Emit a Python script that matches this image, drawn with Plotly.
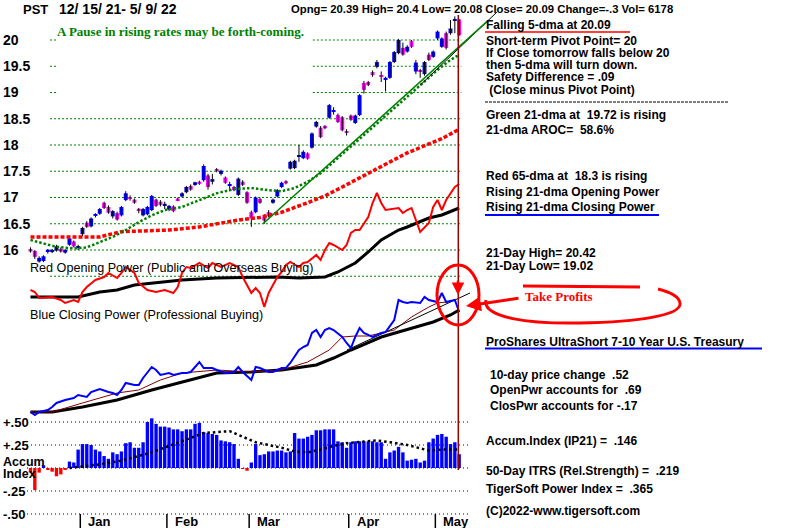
import plotly.graph_objects as go

# ---------------- data ----------------
days = list(range(100))
opens = [16.02,15.98,15.78,15.79,15.98,15.96,15.99,16.02,15.95,16.10,
         16.16,16.05,16.30,16.52,16.45,16.66,16.69,16.90,16.82,16.64,
         16.70,16.66,16.95,17.00,16.96,16.77,16.66,16.68,16.76,16.96,
         16.92,16.85,16.77,16.83,16.98,17.02,17.10,17.22,17.24,17.30,
         17.33,17.42,17.30,17.54,17.45,17.38,17.22,17.20,17.05,17.30,
         17.10,16.72,16.72,16.97,16.64,16.72,16.90,17.02,17.20,17.31,
         17.55,17.56,17.78,17.75,17.84,17.95,18.35,18.33,18.36,18.52,
         18.63,18.57,18.53,18.26,18.56,18.42,18.57,19.18,19.20,19.39,
         19.49,19.32,19.25,19.28,19.58,19.75,19.85,19.78,19.98,19.40,
         19.42,19.35,19.72,19.68,20.03,19.87,20.13,20.13,20.37,20.39]
highs = [16.05,16.00,15.88,15.90,16.02,16.02,16.10,16.05,16.02,16.25,
         16.18,16.10,16.44,16.55,16.62,16.70,16.80,16.92,16.85,16.76,
         16.73,16.84,17.12,17.04,16.98,16.80,16.80,16.84,17.05,16.98,
         16.95,16.92,16.86,16.85,17.00,17.10,17.22,17.25,17.30,17.32,
         17.63,17.45,17.45,17.56,17.53,17.40,17.30,17.22,17.38,17.33,
         17.12,16.75,17.02,17.00,16.68,16.76,16.98,17.16,17.30,17.33,
         17.70,17.72,18.00,17.90,17.86,18.24,18.46,18.36,18.38,18.78,
         18.72,18.60,18.55,18.30,18.58,18.58,18.97,19.22,19.22,19.42,
         19.62,19.40,19.30,19.60,19.79,20.02,19.95,19.90,20.00,19.62,
         19.45,19.60,19.76,19.80,20.18,20.05,20.16,20.38,20.45,20.40]
lows = [15.95,15.83,15.76,15.77,15.93,15.94,15.97,15.95,15.93,16.08,
        16.05,16.00,16.26,16.42,16.43,16.62,16.67,16.78,16.69,16.60,
        16.56,16.64,16.93,16.94,16.88,16.70,16.64,16.66,16.74,16.82,
        16.83,16.78,16.74,16.72,16.93,17.00,17.08,17.13,17.22,17.24,
        17.30,17.15,17.25,17.48,17.42,17.26,17.12,17.12,17.03,17.22,
        16.88,16.44,16.70,16.88,16.50,16.62,16.88,17.00,17.18,17.25,
        17.53,17.54,17.68,17.73,17.72,17.93,18.33,18.13,18.30,18.50,
        18.58,18.42,18.26,18.18,18.46,18.40,18.55,18.98,19.12,19.30,
        19.46,19.20,19.02,19.26,19.56,19.73,19.70,19.76,19.85,19.35,
        19.28,19.32,19.60,19.66,20.00,19.85,19.82,20.10,20.13,20.08]
closes = [15.97,15.87,15.85,15.88,16.00,16.00,16.07,15.97,16.00,16.22,
          16.07,16.06,16.42,16.44,16.60,16.68,16.78,16.80,16.71,16.74,
          16.58,16.82,17.08,16.98,16.90,16.76,16.78,16.82,17.03,16.84,
          16.86,16.88,16.84,16.74,16.95,17.08,17.20,17.15,17.29,17.26,
          17.60,17.20,17.35,17.51,17.51,17.28,17.24,17.14,17.36,17.24,
          16.90,16.60,17.00,16.90,16.56,16.65,16.96,17.14,17.28,17.27,
          17.68,17.70,17.80,17.87,17.74,18.22,18.44,18.15,18.32,18.76,
          18.66,18.44,18.28,18.24,18.48,18.56,18.95,19.05,19.14,19.33,
          19.58,19.30,19.28,19.58,19.77,20.00,19.72,19.87,19.87,19.57,
          19.40,19.58,19.62,19.78,20.16,20.03,19.85,20.22,20.39,20.09]

# moving averages (day, value)
ma21_day = [0, 3, 6, 10, 13, 16, 19, 22, 25, 28, 31, 35, 39, 43, 47, 51, 55, 58, 61, 64, 67, 70, 73, 76, 79, 82, 85, 88, 91, 94, 97, 99]
ma21_val = [16.19, 16.13, 16.06, 16.03, 16.05, 16.15, 16.25, 16.38, 16.53, 16.66, 16.76, 16.82, 16.95, 17.08, 17.16, 17.18, 17.14, 17.12, 17.18, 17.30, 17.46, 17.68, 17.90, 18.11, 18.33, 18.55, 18.77, 18.99, 19.21, 19.43, 19.62, 19.72]
ma65_day = [0, 16, 21, 32, 39, 48, 53, 58, 64, 68, 72, 80, 87, 95, 99]
ma65_val = [16.25, 16.25, 16.35, 16.38, 16.44, 16.57, 16.62, 16.72, 16.90, 17.03, 17.20, 17.55, 17.85, 18.12, 18.30]

# trend lines (day, price)
trend_green_day = [53.7, 105.4]
trend_green_val = [16.50, 20.35]
trend_black_day = [90.0, 107.7]
trend_black_val = [19.14, 20.53]

# Opening power (red) and its moving average (black)
op_day = [0, 1, 2, 4, 5, 7, 8, 10, 11, 12, 13, 15, 17, 18, 20, 21, 22, 24, 25, 27, 29, 31, 33, 34, 35, 36, 37, 39, 41, 42, 44, 46, 48, 49, 51, 52, 53, 54, 55, 57, 58, 59, 60, 62, 63, 64, 66, 67, 68, 69, 70, 72, 73, 74, 75, 76, 78, 79, 80, 81, 82, 85, 86, 87, 88, 89, 90, 92, 93, 94, 95, 96, 98, 99]
op_val = [5, 4, 1, 1.5, 1.5, 0, -1.5, 0, -1, 4, 6.5, 10, 11.5, 13.5, 11, 13.5, 16.5, 13.5, 8.5, 5, 4, 5, 3.5, 6.5, 13.5, 16.5, 16, 18.5, 16, 18.5, 16.5, 18.5, 16.5, 11.5, 3.5, 6, 3.5, -3.5, 3.5, 11.5, 14, 17.5, 19, 16.5, 18.5, 19, 22.5, 20, 25, 28.5, 27.5, 25, 27.5, 33.5, 35, 35, 41.5, 48.5, 53.5, 48.5, 45, 46, 43.5, 45, 46, 40, 34, 38.5, 46.5, 50, 45, 50, 56.5, 58]
opma_day = [0, 11, 16, 20, 24, 28, 35, 43, 51, 57, 62, 68, 71, 75, 78, 81, 85, 87, 92, 95, 99]
opma_val = [1.5, 1.5, 4, 5, 7.5, 8.5, 10, 11, 11.5, 11.5, 11, 11.5, 14, 18.5, 24, 30, 35, 36.5, 41, 42.5, 46]

# Closing power (blue) and its moving averages
cp_day = [0, 1, 2, 4, 5, 6, 8, 10, 11, 13, 14, 16, 18, 19, 20, 21, 22, 24, 25, 26, 28, 29, 30, 32, 33, 35, 36, 37, 39, 40, 42, 43, 45, 47, 48, 49, 51, 52, 53, 55, 56, 58, 59, 60, 62, 63, 64, 65, 66, 67, 68, 69, 70, 72, 73, 74, 75, 76, 77, 79, 81, 82, 84, 85, 86, 87, 88, 90, 91, 92, 94, 95, 96, 98, 99]
cp_val = [4, 2.5, 4, 5, 6.5, 8.5, 10, 11, 12.5, 11.5, 14, 15.5, 14, 13.5, 12.5, 15, 18.5, 17.5, 17.5, 21, 26.5, 25, 22.5, 23.5, 22.5, 23.5, 23.5, 24, 29, 26, 26, 25, 23.5, 24, 26.5, 24, 20, 26.5, 26, 24, 24, 26, 26, 28.5, 35, 36.5, 37.5, 43.5, 45, 41.5, 45, 46, 45, 41.5, 38.5, 36, 41.5, 46, 43.5, 41.5, 43.5, 44, 50, 60, 59, 58.5, 59, 58.5, 61.5, 60, 59, 63.5, 59, 60, 54]
cpma21_day = [0, 5, 12, 20, 25, 30, 35, 43, 51, 58, 64, 69, 72, 75, 78, 84, 88, 92, 94, 96, 98]
cpma21_val = [4, 4, 8.5, 13.5, 15, 20, 23.5, 25, 24, 25, 29, 35, 41.5, 42, 42, 45, 51.5, 56.5, 58.5, 59, 60]
cpma65_day = [0, 5, 12, 20, 28, 35, 43, 51, 58, 66, 70, 74, 78, 81, 85, 89, 93, 97, 99]
cpma65_val = [4, 4, 6.5, 10, 15, 19, 23.5, 24, 25, 27.5, 31, 35, 38.5, 41.5, 44, 46.5, 49, 52.5, 55]
cp_trend_day = [73.1, 101.5]
cp_trend_val = [35, 63.5]

# Accumulation index (IP21) and its moving average
accum = [-0.05,-0.24,-0.05,0.03,-0.02,-0.04,-0.09,-0.07,-0.02,0.07,
         0.06,0.20,0.26,0.26,0.25,0.20,0.18,0.13,0.10,0.17,
         0.15,0.18,0.27,0.28,0.22,0.22,0.28,0.50,0.54,0.48,
         0.45,0.45,0.44,0.42,0.42,0.40,0.42,0.42,0.48,0.49,
         0.39,0.38,0.37,0.36,0.30,0.29,0.28,0.26,0.10,-0.01,
         -0.03,0.06,0.26,0.14,0.15,0.18,0.18,0.19,0.19,0.17,
         0.18,0.38,0.32,0.32,0.34,0.36,0.41,0.41,0.42,0.42,
         0.42,0.29,0.28,0.22,0.28,0.29,0.29,0.29,0.29,0.29,
         0.28,0.28,0.10,0.17,0.19,0.23,0.17,0.08,0.09,0.10,
         0.06,0.08,0.28,0.32,0.36,0.37,0.34,0.26,0.28,0.15]
accma_day = [9, 16, 21, 25, 28, 32, 35, 38, 40, 43, 46, 49, 52, 55, 58, 61, 64, 67, 70, 73, 76, 80, 83, 87, 92, 95, 99]
accma_val = [0.0, 0.04, 0.08, 0.13, 0.17, 0.24, 0.29, 0.34, 0.38, 0.39, 0.40, 0.34, 0.28, 0.25, 0.22, 0.18, 0.17, 0.20, 0.24, 0.27, 0.28, 0.30, 0.28, 0.25, 0.19, 0.20, 0.20]

month_pos = [11.5, 31.5, 50.5, 73.5, 93.5]
month_lbl = ["Jan", "Feb", "Mar", "Apr", "May"]
price_ticks = [16, 16.5, 17, 17.5, 18, 18.5, 19, 19.5, 20]
price_grid = [15.5, 16, 16.5, 17, 17.5, 18, 18.5, 19, 19.5, 20]
acc_ticks = [0.5, 0.25, -0.25, -0.5]
acc_tick_lbl = ["+.50", "+.25", "-.25", "-.50"]
acc_grid = [0.5, 0.25, 0, -0.25, -0.5]

# ---------------- layout helpers ----------------
W, H = 800, 528
PXD = 4.33              # pixels per trading day
X0 = 30.5               # pixel of first day
def px(x): return x / W
def py(y): return 1 - y / H

SANS = "Liberation Sans"
SERIF = "Liberation Serif"
BLUE, MAG, RED, GREEN = "#0000ff", "#ff00ff", "#ff0000", "#008000"

fig = go.Figure()

# candle wicks
wx, wy = [], []
for d, h, l in zip(days, highs, lows):
    wx += [d, d, None]
    wy += [l, h, None]
fig.add_trace(go.Scatter(x=wx, y=wy, mode="lines", line=dict(color="black", width=1), yaxis="y"))
# candle bodies
base = [min(o, c) for o, c in zip(opens, closes)]
hgt = [max(abs(c - o), 0.025) for o, c in zip(opens, closes)]
cols = [BLUE if c >= o else MAG for o, c in zip(opens, closes)]
fig.add_trace(go.Bar(x=days, y=hgt, base=base, marker=dict(color=cols, line=dict(width=0)), width=0.92, yaxis="y"))

# moving averages on price
fig.add_trace(go.Scatter(x=ma65_day, y=ma65_val, mode="lines", line=dict(color=RED, width=3.5, dash="4px,2px"), yaxis="y"))
fig.add_trace(go.Scatter(x=ma21_day, y=ma21_val, mode="lines", line=dict(color=GREEN, width=2.5, dash="2.5px,2px"), yaxis="y"))
fig.add_trace(go.Scatter(x=trend_black_day, y=trend_black_val, mode="lines", line=dict(color="black", width=1), yaxis="y"))
fig.add_trace(go.Scatter(x=trend_green_day, y=trend_green_val, mode="lines", line=dict(color=GREEN, width=1.5), yaxis="y"))

# opening power
fig.add_trace(go.Scatter(x=opma_day, y=opma_val, mode="lines", line=dict(color="black", width=3), yaxis="y2"))
fig.add_trace(go.Scatter(x=op_day, y=op_val, mode="lines", line=dict(color=RED, width=2), yaxis="y2"))

# closing power
fig.add_trace(go.Scatter(x=cpma65_day, y=cpma65_val, mode="lines", line=dict(color="black", width=3), yaxis="y3"))
fig.add_trace(go.Scatter(x=cpma21_day, y=cpma21_val, mode="lines", line=dict(color="#800000", width=1), yaxis="y3"))
fig.add_trace(go.Scatter(x=cp_trend_day, y=cp_trend_val, mode="lines", line=dict(color="black", width=1), yaxis="y3"))
fig.add_trace(go.Scatter(x=cp_day, y=cp_val, mode="lines", line=dict(color=BLUE, width=2), yaxis="y3"))

# accumulation index
acols = [BLUE if v >= 0 else RED for v in accum]
fig.add_trace(go.Bar(x=days, y=accum, marker=dict(color=acols, line=dict(width=0)), width=0.78, yaxis="y4"))
fig.add_trace(go.Scatter(x=accma_day, y=accma_val, mode="lines", line=dict(color="black", width=2.5, dash="2.5px,3px"), yaxis="y4"))

shapes = []
# price grid lines (green dotted)
for lv in price_grid:
    if lv >= 19:
        segs = [(4.5, 6.1), (65.2, 99.5)]
    else:
        segs = [(4.5, 99.5)]
    for a, b in segs:
        shapes.append(dict(type="line", xref="x", yref="y", x0=a, x1=b, y0=lv, y1=lv,
                           line=dict(color=GREEN, width=1, dash="2px,2px"), layer="below"))
# accum grid lines (black dotted)
for lv in acc_grid:
    shapes.append(dict(type="line", xref="x", yref="y4", x0=-0.8, x1=101.5, y0=lv, y1=lv,
                       line=dict(color="black", width=1, dash="1px,3px"), layer="below"))
# month tick marks
for m in month_pos:
    shapes.append(dict(type="line", xref="x", yref="paper", x0=m, x1=m, y0=0, y1=py(514),
                       line=dict(color="black", width=1.5)))
# last-day vertical line
shapes.append(dict(type="line", xref="x", yref="paper", x0=98.8, x1=98.8, y0=py(470), y1=py(15),
                   line=dict(color="#990000", width=1.5)))
# underlines
shapes.append(dict(type="line", xref="paper", yref="paper", x0=px(485), x1=px(630), y0=py(32), y1=py(32), line=dict(color=RED, width=1.5)))
shapes.append(dict(type="line", xref="paper", yref="paper", x0=px(485), x1=px(729), y0=py(102), y1=py(102), line=dict(color="black", width=1, dash="3px,1px")))
shapes.append(dict(type="line", xref="paper", yref="paper", x0=px(485), x1=px(659), y0=py(215), y1=py(215), line=dict(color=BLUE, width=2)))
shapes.append(dict(type="line", xref="paper", yref="paper", x0=px(485), x1=px(762), y0=py(348.5), y1=py(348.5), line=dict(color=BLUE, width=2)))
# hand-drawn red marks
shapes.append(dict(type="circle", xref="paper", yref="paper", x0=px(437), x1=px(479), y0=py(325), y1=py(265), line=dict(color=RED, width=3)))

def pth(points, start="M"):
    out = []
    for cmd, pts in points:
        out.append(cmd + " ".join(f"{px(x):.5f},{py(y):.5f}" for x, y in pts))
    return " ".join(out)

loop_top = pth([("M", [(523, 286)]), ("L", [(640, 287)])])
loop_arc = pth([("M", [(486, 300)]),
                ("C", [(482, 318), (530, 324), (580, 323)]),
                ("C", [(640, 322), (682, 315), (680, 303)]),
                ("C", [(679, 296), (670, 292), (658, 289)])])
shapes.append(dict(type="path", xref="paper", yref="paper", path=loop_top, line=dict(color=RED, width=3)))
shapes.append(dict(type="path", xref="paper", yref="paper", path=loop_arc, line=dict(color=RED, width=3)))

ann = []
def txt(x, y, s, size=12, color="black", family=SANS, weight="bold", xref="paper", xa="left"):
    ann.append(dict(x=px(x) if xref == "paper" else x, y=py(y), xref=xref, yref="paper", text=s, showarrow=False,
                    xanchor=xa, yanchor="middle",
                    font=dict(family=family, size=size, color=color, weight=weight)))

txt(21, 9, "PST", 13)
txt(57, 9, "12/ 15/ 21- 5/ 9/ 22", 14)
txt(289, 9, "Opng= 20.39 High= 20.4 Low= 20.08 Close= 20.09 Change=-.3 Vol= 6178", 11.3)
txt(55, 31, "A Pause in rising rates may be forth-coming.", 13, GREEN, SERIF)

R = 484
txt(R, 25, "Falling 5-dma at 20.09")
txt(R, 41, "Short-term Pivot Point= 20")
txt(R, 53, "If Close tomorrow falls below 20")
txt(R, 65, "then 5-dma will turn down.")
txt(R, 77, "Safety Difference = .09")
txt(R, 90, "&nbsp;(Close minus Pivot Point)")
txt(R, 115, "Green 21-dma at &nbsp;19.72 is rising")
txt(R, 130, "21-dma AROC= &nbsp;58.6%")
txt(R, 176, "Red 65-dma at &nbsp;18.3 is rising")
txt(R, 192, "Rising 21-dma Opening Power")
txt(R, 207, "Rising 21-dma Closing Power")
txt(R, 253, "21-Day High= 20.42")
txt(R, 266, "21-Day Low= 19.02")
txt(523, 296, "Take Profits", 13, RED, SERIF)
txt(R, 342, "ProShares UltraShort 7-10 Year U.S. Treasury")
txt(488, 375, "10-day price change &nbsp;.52")
txt(488, 390, "OpenPwr accounts for &nbsp;.69")
txt(488, 406, "ClosPwr accounts for -.17")
txt(R, 441, "Accum.Index (IP21) = &nbsp;.146")
txt(R, 471, "50-Day ITRS (Rel.Strength) = &nbsp;.219")
txt(R, 489, "TigerSoft Power Index = &nbsp;.365")
txt(R, 511, "(C)2022-www.tigersoft.com")

txt(28, 268, "Red Opening Power (Public and Overseas Buying)", 12.6, weight="normal")
txt(28, 315, "Blue Closing Power (Professional Buying)", 12.6, weight="normal")
txt(1, 462, "Accum", 12.5)
txt(1, 474, "Index", 12.5)

# month labels
for m, lbl in zip(month_pos, month_lbl):
    txt(m + 1.4, 521, lbl, 13, xref="x")

# arrows
ann.append(dict(x=px(458), y=py(295), xref="paper", yref="paper", text="", showarrow=True,
                ax=0, ay=-16, arrowcolor=RED, arrowwidth=2.5, arrowhead=2, arrowsize=1))
ann.append(dict(x=px(466), y=py(306), xref="paper", yref="paper", text="", showarrow=True,
                ax=54, ay=-8, arrowcolor=RED, arrowwidth=3, arrowhead=2, arrowsize=1))

fig.update_layout(
    width=W, height=H, margin=dict(l=0, r=0, t=0, b=0),
    plot_bgcolor="white", paper_bgcolor="white", showlegend=False,
    barmode="overlay", hovermode=False,
    shapes=shapes, annotations=ann,
    xaxis=dict(range=[-X0 / PXD, (W - X0) / PXD], showgrid=False, zeroline=False, showline=False,
               showticklabels=False, ticks=""),
    yaxis=dict(range=[20 - 488 / 52.5, 20 + 40 / 52.5], showgrid=False, zeroline=False, showline=False,
               tickvals=price_ticks, ticktext=[f"{t:g}" for t in price_ticks], ticks="",
               ticklabelposition="inside",
               tickfont=dict(family=SANS, size=14, color="black", weight="bold")),
    yaxis2=dict(range=[-114, 150], overlaying="y", visible=False),
    yaxis3=dict(range=[-54, 210], overlaying="y", visible=False),
    yaxis4=dict(range=[-60 / 92, 468 / 92], overlaying="y", showgrid=False, zeroline=False, showline=False,
                tickvals=acc_ticks, ticktext=acc_tick_lbl, ticks="", ticklabelposition="inside",
                tickfont=dict(family=SANS, size=13, color="black", weight="bold")),
)

fig.write_html("out.html", config={"displayModeBar": False},
               post_script="document.body.style.margin='0';document.body.style.overflow='hidden';")
